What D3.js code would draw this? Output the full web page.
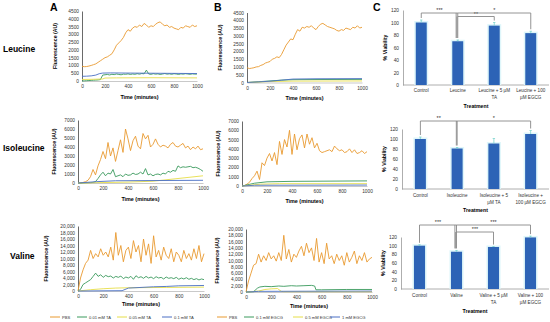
<!DOCTYPE html>
<html>
<head>
<meta charset="utf-8">
<script src="https://cdn.jsdelivr.net/npm/d3@7"></script>
<style>
  body { margin: 0; background: #fff; }
  svg { display: block; }
  text { font-family: "Liberation Sans", Arial, sans-serif; }
</style>
</head>
<body>
<svg width="550" height="322"></svg>
<script>
// ---- time axis (minutes) shared by the dense traces ----
const minutes = [0,20,40,60,80,100,120,140,160,180,200,220,240,260,280,300,320,340,360,380,400,
  420,440,460,480,500,520,540,560,580,600,620,640,660,680,700,720,740,760,780,800,
  820,840,860,880,900,920,940,960,980,1000];
const timeTicks = [0,200,400,600,800,1000];

// ---- Leucine ----
const leuPbsA = [950,920,930,960,1000,1050,1100,1200,1300,1400,1500,1550,1650,1750,2000,2300,2450,2600,2800,3100,3300,
  3200,3400,3500,3450,3600,3500,3700,3600,3450,3550,3500,3650,3750,3800,3650,3550,3600,3450,3500,3400,
  3350,3300,3450,3400,3550,3500,3450,3600,3500,3550];
const leuTa001 = [0,10,20,30,40,50,60,70,90,380,400,420,390,430,410,450,420,400,440,430,460,
  420,450,430,470,440,480,460,700,450,430,470,440,460,420,450,480,440,460,430,470,
  450,420,460,440,470,450,430,460,440,450];
const leuTa005 = [[0,100],[100,110],[180,130],[200,190],[300,200],[600,210],[1000,200]];
const leuTa01 = [[0,300],[40,310],[80,330],[120,380],[150,470],[180,510],[250,520],[400,510],[600,500],[800,490],[1000,480]];

const leuPbsB = [950,900,920,950,1000,1020,1100,1150,1250,1300,1350,1500,1550,1650,1600,1800,2100,2400,2600,2800,2750,
  3100,3400,3300,3550,3500,3600,3550,3650,3500,3400,3600,3750,3800,3700,3600,3550,3500,3450,3350,3300,
  3400,3350,3500,3450,3400,3550,3500,3650,3500,3550];
const leuEg01 = [[0,0],[100,50],[200,100],[300,150],[400,180],[600,190],[1000,200]];
const leuEg05 = [[0,0],[200,60],[400,90],[1000,100]];
const leuEg1 = [[0,0],[200,80],[400,220],[600,240],[1000,250]];

// ---- Isoleucine ----
const isoPbsA = [0,20,60,150,300,700,1500,900,1900,2600,3500,2700,4500,3000,3900,2400,3600,4800,3400,6000,4900,
  3600,4700,5200,4100,3800,5500,4900,5300,4000,4300,4900,4300,4000,4200,4100,3900,4300,4500,4100,4000,
  4200,4400,3900,4100,3700,4000,3800,4100,3700,3800];
const isoTa001 = [0,0,10,20,30,40,60,150,500,900,1200,800,1100,1000,1500,700,800,900,700,1000,850,
  900,1100,950,1000,1200,1000,1600,900,1000,800,950,1000,900,1100,1000,1300,1200,1400,1300,1900,
  1700,1800,1750,1800,1850,1700,1750,1650,1500,1300];
const isoTa005 = [[0,0],[200,50],[400,100],[600,200],[800,500],[1000,800]];
const isoTa01 = [[0,0],[150,150],[300,250],[1000,300]];

const isoPbsB = [0,50,200,400,800,1100,1600,700,2500,2200,3000,3500,2700,3600,2300,4800,3400,5000,4200,6000,3400,
  5600,3900,5100,5500,4100,5600,4500,5200,4100,4600,3800,3600,3700,3800,3900,3700,4300,4000,3800,3900,
  3600,3700,4000,3600,3900,3500,3600,3800,3500,3700];
const isoEg01 = [[0,0],[100,300],[200,450],[400,500],[1000,550]];
const isoEg05 = [[0,0],[150,200],[300,250],[1000,250]];
const isoEg1 = [[0,0],[100,80],[1000,100]];

// ---- Valine ----
const valPbsA = [0,4000,6500,8500,9500,12500,10000,11500,10500,13000,11000,12000,10500,13500,9500,18000,11000,14000,9000,12500,13500,
  10000,15500,12000,14000,9000,16000,11000,14500,8500,17000,10500,12500,9500,13500,11000,10000,13000,9000,12000,11000,
  9000,12500,10000,11500,9500,13000,10000,14000,9000,11500];
const valTa001 = [0,500,2000,2500,3000,3500,4500,5500,4500,5000,4200,4800,4400,4600,4000,4500,4200,4600,3800,4300,4000,
  4500,3600,4700,4100,4400,3900,4500,4000,4300,3800,4400,4000,4200,3700,4300,3900,4100,3800,4200,3600,
  4000,3700,4100,3600,3900,3500,3800,3400,3700,3500];
const valTa005 = [[0,0],[100,400],[200,700],[300,900],[400,1000],[700,1100],[1000,1200]];
const valTa01 = [[0,0],[350,100],[400,900],[500,1100],[600,1300],[700,1400],[800,1600],[1000,1700]];

const valPbsB = [0,3500,6000,8500,9000,12000,9500,11500,10000,12500,10500,11500,9800,12500,10000,18000,10500,13500,9500,12000,11000,
  13000,14500,11500,15500,12500,14000,10000,17000,9500,12500,9000,15500,10500,11500,9000,12000,10000,11500,8500,12500,
  9500,11000,13000,9000,11500,10000,12500,9500,10500,11000];
const valEg01 = [[0,0],[60,100],[90,1200],[110,1600],[150,1800],[200,1700],[260,1900],[300,1800],[360,2000],[400,1900],
  [460,2000],[520,2100],[545,1900],[555,700],[600,700],[800,800],[1000,800]];
const valEg05 = [[0,0],[100,300],[150,800],[200,1000],[250,1100],[280,200],[300,100],[1000,100]];
const valEg1 = [[0,0],[100,200],[1000,300]];

// ---- viability (panel C) ----
const leuCats = [["Control"],["Leucine"],["Leucine + 5 µM","TA"],["Leucine + 100","µM EGCG"]];
const leuViab = [100,70,95,83];
const leuErr = [4,2,5,3];
const leuSig = [[0,1,"***"],[1,2,"**"],[1,3,"*"]];

const isoCats = [["Control"],["Isoleucine"],["Isoleucine + 5","µM TA"],["Isoleucine +","100 µM EGCG"]];
const isoViab = [100,81,91,110];
const isoErr = [4,2,10,7];
const isoSig = [[0,1,"**"],[1,3,"*"]];

const valCats = [["Control"],["Valine"],["Valine + 5 µM","TA"],["Valine + 100","µM EGCG"]];
const valViab = [100,86,97,119];
const valErr = [2,3,1,3];
const valSig = [[0,1,"***"],[1,2,"***"],[1,3,"***"]];

const taLabels = ["PBS","0.01 mM TA","0.05 mM TA","0.1 mM TA"];
const egLabels = ["PBS","0.1 mM EGCG","0.5 mM EGCG","1 mM EGCG"];
const colors = ["#E99A30","#3A9A5C","#E6DE48","#4A6FC4"];

const svg = d3.select("svg");
svg.append("rect").attr("width",550).attr("height",322).attr("fill","#fff");

// helper: dense arrays go with minutes, sparse ones are [t,v] pairs
function toPoints(s) {
  return typeof s[0] === "number" ? s.map((v, i) => [minutes[i], v]) : s;
}

function lineChart(c) {
  const x = d3.scaleLinear().domain([0, 1000]).range([c.x0, c.x1]);
  const y = d3.scaleLinear().domain([0, c.max]).range([c.yb, c.yt]);
  const g = svg.append("g");
  const fmt = c.max > 9999 ? d3.format(",") : d3.format("d");

  const ya = g.append("g").attr("transform", `translate(${c.x0},0)`)
    .call(d3.axisLeft(y).tickValues(d3.range(0, c.max + 1, c.step)).tickFormat(fmt).tickSize(0).tickPadding(3));
  ya.select(".domain").attr("stroke", "#444").attr("stroke-width", 0.8);
  ya.selectAll("text").attr("font-size", 4.8).attr("fill", "#333");

  const xa = g.append("g").attr("transform", `translate(0,${c.yb})`)
    .call(d3.axisBottom(x).tickValues(timeTicks).tickFormat(d3.format("d")).tickSize(0).tickPadding(4));
  xa.select(".domain").attr("stroke", "#bbb").attr("stroke-width", 0.8);
  xa.selectAll("text").attr("font-size", 4.8).attr("fill", "#333");

  const line = d3.line().x(d => x(d[0])).y(d => y(d[1]));
  c.series.forEach((s, i) => {
    g.append("path").datum(toPoints(s)).attr("d", line)
      .attr("fill", "none").attr("stroke", colors[i]).attr("stroke-width", 0.9)
      .attr("stroke-linejoin", "round");
  });

  g.append("text").attr("x", (c.x0 + c.x1) / 2).attr("y", c.timeY)
    .attr("text-anchor", "middle").attr("font-size", 5.4).attr("font-weight", "bold")
    .text("Time (minutes)");
  g.append("text").attr("transform", `translate(${c.titleX},${(c.yb + c.yt) / 2}) rotate(-90)`)
    .attr("text-anchor", "middle").attr("font-size", 5.2).attr("font-weight", "bold")
    .text("Fluorescence (AU)");
}

function barChart(c) {
  const x = d3.scaleBand().domain(d3.range(c.cats.length)).range([c.x0, c.x1]).paddingInner(0.7).paddingOuter(0.35);
  const y = d3.scaleLinear().domain([0, 120]).range([c.yb, c.yt]);
  const g = svg.append("g");

  const ya = g.append("g").attr("transform", `translate(${c.x0},0)`)
    .call(d3.axisLeft(y).tickValues(d3.range(0, 121, 20)).tickSize(0).tickPadding(4));
  ya.select(".domain").attr("stroke", "#999").attr("stroke-width", 0.8);
  ya.selectAll("text").attr("font-size", 4.8).attr("fill", "#333");
  g.append("line").attr("x1", c.x0).attr("x2", c.x1).attr("y1", c.yb).attr("y2", c.yb)
    .attr("stroke", "#999").attr("stroke-width", 0.8);

  // halo + bars
  g.selectAll(".halo").data(c.vals).join("rect")
    .attr("x", (d, i) => x(i) - 1.5).attr("width", x.bandwidth() + 3)
    .attr("y", d => y(d) - 1.5).attr("height", d => c.yb - y(d) + 1.5)
    .attr("fill", "#dff6fa");
  g.selectAll(".bar").data(c.vals).join("rect")
    .attr("x", (d, i) => x(i)).attr("width", x.bandwidth())
    .attr("y", d => y(d)).attr("height", d => c.yb - y(d))
    .attr("fill", "#2C63B6");

  // error bars
  c.vals.forEach((v, i) => {
    const cx = x(i) + x.bandwidth() / 2;
    g.append("line").attr("x1", cx).attr("x2", cx).attr("y1", y(v)).attr("y2", y(v + c.errs[i]))
      .attr("stroke", "#6fd0c8").attr("stroke-width", 0.7);
    g.append("line").attr("x1", cx - 1.2).attr("x2", cx + 1.2).attr("y1", y(v + c.errs[i])).attr("y2", y(v + c.errs[i]))
      .attr("stroke", "#6fd0c8").attr("stroke-width", 0.7);
  });

  // significance brackets
  const mid = i => x(i) + x.bandwidth() / 2;
  c.sig.forEach((s, k) => {
    const ly = c.sigY[k];
    const [a, b, stars] = s;
    g.append("line").attr("x1", mid(a)).attr("x2", mid(b)).attr("y1", ly).attr("y2", ly)
      .attr("stroke", "#888").attr("stroke-width", 0.9);
    [a, b].forEach((j, n) => {
      const off = n === 0 ? -0.8 * k : 0;
      g.append("line").attr("x1", mid(j) + off).attr("x2", mid(j) + off).attr("y1", ly)
        .attr("y2", y(c.vals[j] + c.errs[j]) - 2)
        .attr("stroke", "#888").attr("stroke-width", 0.9);
    });
    g.append("text").attr("x", (mid(a) + mid(b)) / 2).attr("y", ly - 0.8)
      .attr("text-anchor", "middle").attr("font-size", 5.5).attr("fill", "#333").text(stars);
  });

  // category labels
  c.cats.forEach((lines, i) => {
    lines.forEach((t, n) => {
      g.append("text").attr("x", mid(i)).attr("y", c.catY + n * 6.5)
        .attr("text-anchor", "middle").attr("font-size", 4.6).attr("fill", "#333").text(t);
    });
  });
  g.append("text").attr("x", (c.x0 + c.x1) / 2).attr("y", c.treatY)
    .attr("text-anchor", "middle").attr("font-size", 5.2).attr("font-weight", "bold").text("Treatment");
  g.append("text").attr("transform", `translate(${c.x0 - 16},${(c.yb + c.yt) / 2}) rotate(-90)`)
    .attr("text-anchor", "middle").attr("font-size", 5.2).attr("font-weight", "bold").text("% Viability");
}

// ---- Panels A and B ----
lineChart({x0: 82, x1: 197, yb: 81, yt: 11, max: 4500, step: 500, titleX: 57, timeY: 99,
  series: [leuPbsA, leuTa001, leuTa005, leuTa01]});
lineChart({x0: 247, x1: 362, yb: 82.5, yt: 12.5, max: 4500, step: 500, titleX: 222, timeY: 100,
  series: [leuPbsB, leuEg01, leuEg05, leuEg1]});
lineChart({x0: 78, x1: 203, yb: 183, yt: 120, max: 7000, step: 1000, titleX: 56, timeY: 201,
  series: [isoPbsA, isoTa001, isoTa005, isoTa01]});
lineChart({x0: 242, x1: 367, yb: 186, yt: 121, max: 7000, step: 1000, titleX: 220, timeY: 203,
  series: [isoPbsB, isoEg01, isoEg05, isoEg1]});
lineChart({x0: 78, x1: 204, yb: 291, yt: 226, max: 20000, step: 2000, titleX: 48, timeY: 306,
  series: [valPbsA, valTa001, valTa005, valTa01]});
lineChart({x0: 246, x1: 372, yb: 292, yt: 229, max: 20000, step: 2000, titleX: 219, timeY: 308,
  series: [valPbsB, valEg01, valEg05, valEg1]});

// ---- Panel C ----
barChart({x0: 403, x1: 549, yb: 85, yt: 10, cats: leuCats, vals: leuViab, errs: leuErr,
  sig: leuSig, sigY: [13, 16.5, 13], catY: 92, treatY: 108});
barChart({x0: 402, x1: 549, yb: 189, yt: 129, cats: isoCats, vals: isoViab, errs: isoErr,
  sig: isoSig, sigY: [121, 121], catY: 197, treatY: 212});
barChart({x0: 401, x1: 549, yb: 289, yt: 237, cats: valCats, vals: valViab, errs: valErr,
  sig: valSig, sigY: [225, 232, 225], catY: 297, treatY: 313});

// ---- row labels, panel letters ----
[["Leucine", 3, 52], ["Isoleucine", 3, 151], ["Valine", 10, 259]].forEach(([t, x, y]) => {
  svg.append("text").attr("x", x).attr("y", y).attr("font-size", 8.5).attr("font-weight", "bold").text(t);
});
[["A", 50, 11], ["B", 214, 11], ["C", 373, 11]].forEach(([t, x, y]) => {
  svg.append("text").attr("x", x).attr("y", y).attr("font-size", 10.5).attr("font-weight", "bold").text(t);
});

// ---- legends ----
function legend(labels, starts) {
  labels.forEach((t, i) => {
    const x = starts[i];
    svg.append("line").attr("x1", x).attr("x2", x + 10).attr("y1", 317).attr("y2", 317)
      .attr("stroke", colors[i]).attr("stroke-width", 1);
    svg.append("text").attr("x", x + 12).attr("y", 318.6).attr("font-size", 4.1).attr("fill", "#333").text(t);
  });
}
legend(taLabels, [50, 77, 117, 162]);
legend(egLabels, [217, 244, 293, 330]);
</script>
</body>
</html>
